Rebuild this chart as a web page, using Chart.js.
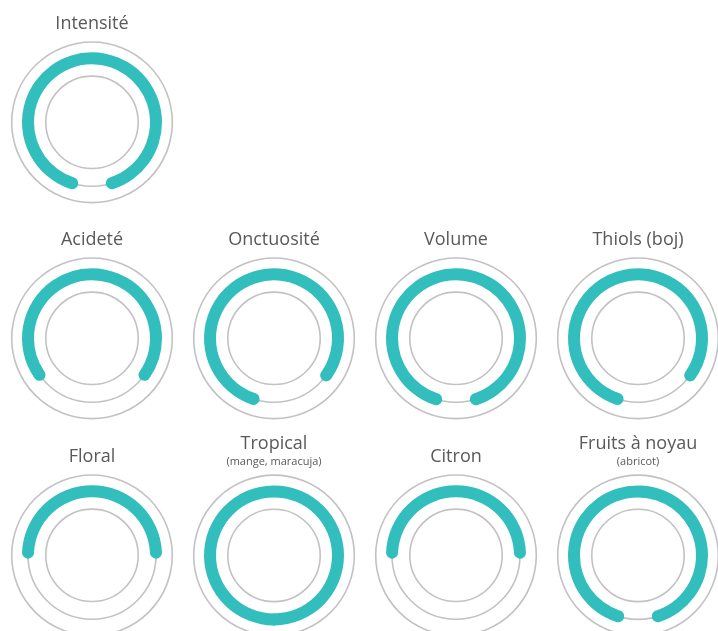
<!DOCTYPE html>
<html>
<head>
<meta charset="utf-8">
<script src="https://cdn.jsdelivr.net/npm/chart.js@4/dist/chart.umd.min.js"></script>
<style>
  html, body { margin: 0; padding: 0; background: #ffffff; width: 718px; height: 631px; overflow: hidden; }
  #wrap { position: relative; width: 718px; height: 631px; }
  canvas { position: absolute; }
</style>
</head>
<body>
<div id="wrap"></div>
<script>
// ---- data ----
const categories = ['Intensité', 'Acideté', 'Onctuosité', 'Volume', 'Thiols (boj)', 'Floral', 'Tropical', 'Citron', 'Fruits à noyau'];
const subtitles  = ['', '', '', '', '', '', '(mange, maracuja)', '', '(abricot)'];
const values     = [4.5, 3.5, 4, 4.5, 4, 2.5, 5, 2.5, 4.5];
const maxValue   = 5;

// ---- layout / style ----
const arcOffsetDeg = [0, 0, -18, 0, -18, 0, 0, 0, 0];   // rotation of the arc's centre from the top
const slots = [[0,0],[1,0],[1,1],[1,2],[1,3],[2,0],[2,1],[2,2],[2,3]]; // [row, col]
const colX = [92, 274, 456, 638];
const rowY = [122, 338, 555];
const TEAL = '#33BEBE';
const GRAY = '#C2C2C2';
const TEXT = '#595959';
const ARC_OUTER = 70, ARC_INNER = 58;
const SWEEP = 372; // full-scale sweep incl. round-cap allowance

const trackPlugin = {
  id: 'track',
  beforeDatasetsDraw(chart) {
    const arc = chart.getDatasetMeta(0).data[0];
    if (!arc) return;
    const p = arc.getProps(['x', 'y', 'outerRadius', 'innerRadius'], true);
    const mid = (p.outerRadius + p.innerRadius) / 2;
    const ctx = chart.ctx;
    ctx.save();
    ctx.strokeStyle = GRAY;
    ctx.lineWidth = 1.6;
    [mid + 16.3, mid, mid - 17.8].forEach(r => {
      ctx.beginPath();
      ctx.arc(p.x, p.y, r, 0, Math.PI * 2);
      ctx.stroke();
    });
    ctx.restore();
  }
};

const wrap = document.getElementById('wrap');
categories.forEach((name, i) => {
  const [row, col] = slots[i];
  const cx = colX[col], cy = rowY[row];
  const sub = subtitles[i];
  const titleSize = 18, subSize = 11, subPad = 1;
  const headerH = titleSize * 1.2 + (sub ? subSize * 1.2 + subPad : 0);
  const titleCenter = sub ? cy - 111.5 : cy - 98.5;
  const top = titleCenter - titleSize * 1.2 / 2;
  const areaTop = top + headerH;
  const height = headerH + 2 * (cy - areaTop);
  const width = 182;

  const canvas = document.createElement('canvas');
  canvas.width = width;
  canvas.height = Math.round(height);
  canvas.style.left = (cx - width / 2) + 'px';
  canvas.style.top = top + 'px';
  wrap.appendChild(canvas);

  const sweep = SWEEP * values[i] / maxValue;
  new Chart(canvas, {
    type: 'doughnut',
    data: {
      labels: [name, ''],
      datasets: [{
        data: [values[i], maxValue - values[i]],
        backgroundColor: [TEAL, 'rgba(0,0,0,0)'],
        borderWidth: 0,
        borderRadius: (ARC_OUTER - ARC_INNER) / 2,
        rotation: -sweep / 2 + arcOffsetDeg[i],
        circumference: SWEEP
      }]
    },
    options: {
      responsive: false,
      animation: false,
      events: [],
      radius: ARC_OUTER,
      cutout: (ARC_INNER / ARC_OUTER * 100) + '%',
      layout: { padding: 0 },
      plugins: {
        legend: { display: false },
        tooltip: { enabled: false },
        title: {
          display: true,
          text: name,
          color: TEXT,
          font: { family: 'Open Sans', size: titleSize, weight: 'normal' },
          padding: { top: 0, bottom: 0 }
        },
        subtitle: {
          display: !!sub,
          text: sub,
          color: TEXT,
          font: { family: 'Open Sans', size: subSize, weight: 'normal' },
          padding: { top: subPad, bottom: 0 }
        }
      }
    },
    plugins: [trackPlugin]
  });
});
</script>
</body>
</html>
